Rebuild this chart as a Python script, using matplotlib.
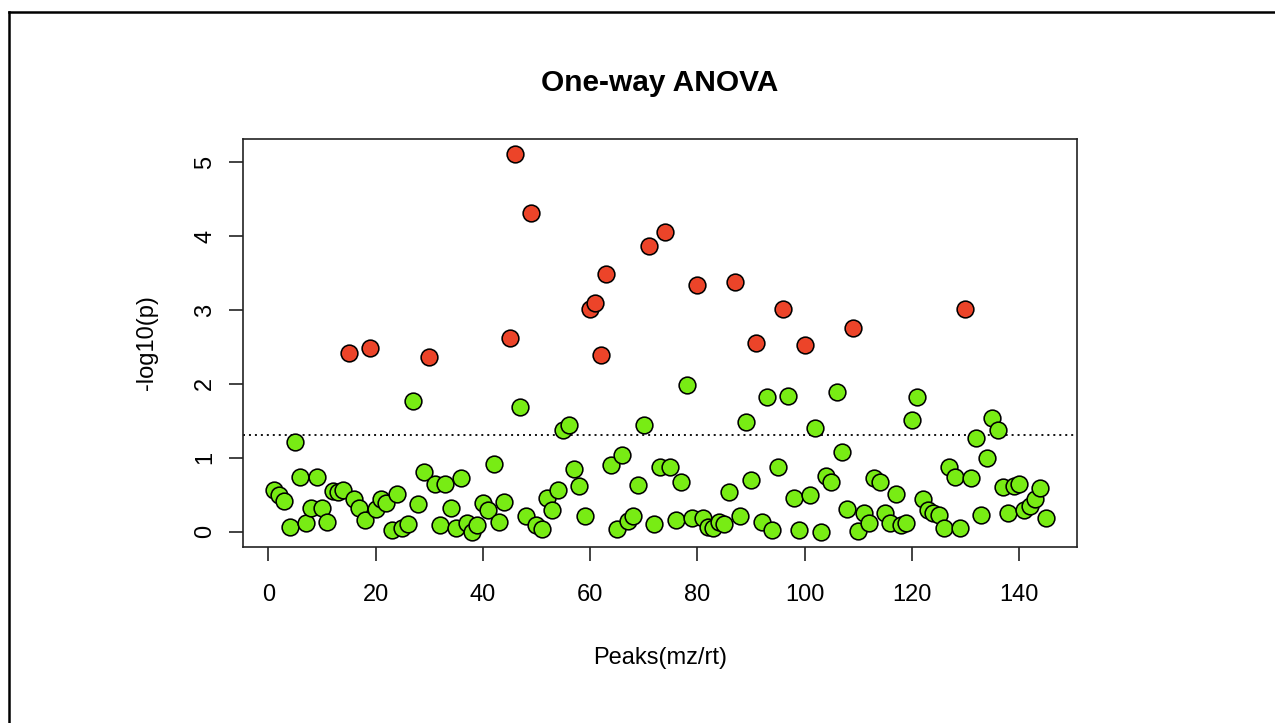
import numpy as np
import matplotlib
matplotlib.use("Agg")
import matplotlib.pyplot as plt
from matplotlib.lines import Line2D

plt.rcParams["font.family"] = ["Liberation Sans", "DejaVu Sans"]

# -log10(p) for each peak, in peak order (1..145)
logp = [0.56, 0.49, 0.42, 0.06, 1.21, 0.745, 0.12, 0.32, 0.745, 0.32,
        0.135, 0.55, 0.53, 0.56, 2.42, 0.435, 0.32, 0.16, 2.48, 0.30,
        0.435, 0.38, 0.027, 0.51, 0.045, 0.10, 1.765, 0.37, 0.81, 2.37,
        0.64, 0.09, 0.64, 0.32, 0.045, 0.72, 0.116, 0.0, 0.09, 0.38,
        0.29, 0.91, 0.135, 0.40, 2.62, 5.11, 1.685, 0.21, 4.31, 0.09,
        0.03, 0.45, 0.29, 0.56, 1.38, 1.44, 0.85, 0.62, 0.21, 3.02,
        3.10, 2.39, 3.49, 0.90, 0.03, 1.04, 0.14, 0.21, 0.63, 1.44,
        3.86, 0.10, 0.88, 4.06, 0.88, 0.16, 0.67, 1.98, 0.19, 3.34,
        0.19, 0.067, 0.045, 0.135, 0.10, 0.53, 3.38, 0.21, 1.49, 0.70,
        2.55, 0.135, 1.82, 0.02, 0.88, 3.02, 1.83, 0.45, 0.015, 2.52,
        0.49, 1.40, 0.0, 0.75, 0.67, 1.89, 1.08, 0.31, 2.75, 0.01,
        0.25, 0.11, 0.73, 0.67, 0.25, 0.11, 0.51, 0.09, 0.11, 1.51,
        1.82, 0.44, 0.29, 0.25, 0.23, 0.045, 0.88, 0.74, 0.05, 3.02,
        0.72, 1.27, 0.23, 1.00, 1.54, 1.37, 0.61, 0.25, 0.62, 0.64,
        0.29, 0.345, 0.435, 0.59, 0.18]

# peaks flagged as significant (drawn red)
sig_peaks = [15, 19, 30, 45, 46, 49, 60, 61, 62, 63, 71, 74, 80, 87, 91,
             96, 100, 109, 130]

p_cutoff = 0.05
x_ticks = [0, 20, 40, 60, 80, 100, 120, 140]
y_ticks = [0, 1, 2, 3, 4, 5]

title = "One-way ANOVA"
xlab = "Peaks(mz/rt)"
ylab = "-log10(p)"

red = "#EC4429"
green = "#78EC14"

logp = np.array(logp)
peaks = np.arange(1, len(logp) + 1)
is_sig = np.isin(peaks, sig_peaks)

fig = plt.figure(figsize=(12.75, 7.23), dpi=100)
ax = fig.add_axes([0.1904, 0.2439, 0.6541, 0.5638])

ax.scatter(peaks[is_sig], logp[is_sig], s=145, c=red, edgecolors="black",
           linewidths=1.15, zorder=3)
ax.scatter(peaks[~is_sig], logp[~is_sig], s=145, c=green, edgecolors="black",
           linewidths=1.15, zorder=3)

ax.axhline(-np.log10(p_cutoff), color="black", lw=1.3,
           linestyle=(0, (1.1, 2.2)), zorder=2)

ax.margins(x=0.04, y=0.04)

ax.set_xticks(x_ticks)
ax.set_yticks(y_ticks)
ax.set_yticklabels([str(v) for v in y_ticks], rotation=90, va="center")
ax.tick_params(axis="both", direction="out", length=10, width=1.2,
               labelsize=17, color="#222222")
ax.tick_params(axis="x", pad=17)
ax.tick_params(axis="y", pad=9)
for sp in ax.spines.values():
    sp.set_linewidth(1.2)
    sp.set_color("#222222")

ax.set_xlabel(xlab, fontsize=17)
ax.set_ylabel(ylab, fontsize=17)
ax.xaxis.set_label_coords(0.5, -0.245)
ax.yaxis.set_label_coords(-0.102, 0.5)

ax.text(0.5, 1.1185, title, transform=ax.transAxes, ha="center",
        va="baseline", fontsize=21.5, fontweight="bold")

# frame around the picture (top and left edges only are visible)
fig.add_artist(Line2D([9 / 1275, 1.0], [1 - 12 / 723, 1 - 12 / 723],
                      color="black", lw=1.8, transform=fig.transFigure))
fig.add_artist(Line2D([9 / 1275, 9 / 1275], [0.0, 1 - 12 / 723],
                      color="black", lw=1.8, transform=fig.transFigure))

fig.savefig("out.png", dpi=100)
